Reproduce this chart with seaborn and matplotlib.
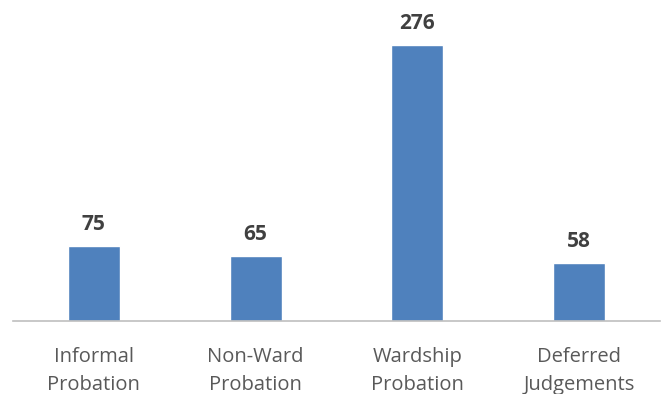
import matplotlib
matplotlib.use("Agg")
import matplotlib.pyplot as plt
import seaborn as sns
import pandas as pd

# Chart data
categories = ["Informal\nProbation", "Non-Ward\nProbation", "Wardship\nProbation", "Deferred\nJudgements"]
counts = [75, 65, 276, 58]

df = pd.DataFrame({"category": categories, "count": counts})

sns.set_style("white")
plt.rcParams["font.family"] = ["Open Sans", "DejaVu Sans"]

fig = plt.figure(figsize=(6.66, 3.94), dpi=100)
ax = fig.add_axes([13 / 666, 73 / 394, 647 / 666, (321 - 23) / 394])

sns.barplot(data=df, x="category", y="count", color="#4F81BD", width=0.32,
            saturation=1, ax=ax)

# value labels above bars
for p, v in zip(ax.patches, counts):
    ax.text(p.get_x() + p.get_width() / 2, v + 16, str(v), ha="center", va="baseline",
            fontsize=15, fontweight="bold", color="#404040")

ax.set_ylim(0, 298)
ax.set_xlim(-0.5, 3.5)
ax.set_xlabel("")
ax.set_ylabel("")
ax.set_yticks([])
ax.tick_params(axis="x", length=0, pad=19, labelsize=14.5, labelcolor="#595959")
for lbl in ax.get_xticklabels():
    lbl.set_linespacing(1.5)
for s in ["top", "right", "left"]:
    ax.spines[s].set_visible(False)
ax.spines["bottom"].set_color("#BFBFBF")
ax.spines["bottom"].set_linewidth(1.2)

fig.savefig("out.png", dpi=100)
